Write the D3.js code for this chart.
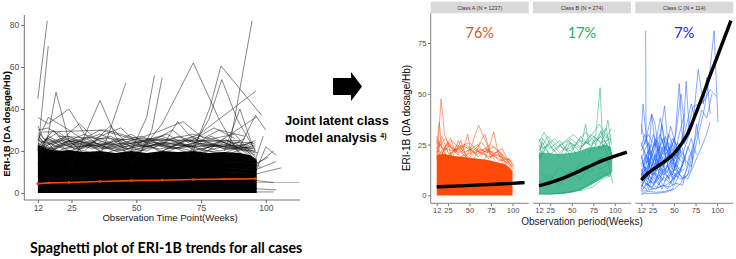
<!DOCTYPE html>
<html><head><meta charset="utf-8">
<script src="https://cdn.jsdelivr.net/npm/d3@7"></script>
<style>body{margin:0;background:#fff}svg{display:block}</style>
</head><body>
<svg id="c" width="736" height="259"></svg>
<script>
// ---------------- DATA ----------------
const leftYTicks = [0, 20, 40, 60, 80];
const leftXTicks = [12, 25, 50, 75, 100];
const rightYTicks = [0, 25, 50, 75];
const rightXTicks = [12, 25, 50, 75, 100];

// mean trajectory (all cases)
const meanWeeks = [12, 16, 24, 36, 48, 60, 72, 84, 96];
const meanVals  = [4.4, 4.8, 5.0, 5.5, 5.9, 6.1, 6.4, 6.6, 6.8];

// dense mass of all cases (upper envelope)
const allMassWeeks = [12, 14, 16, 20, 24, 30, 36, 42, 48, 54, 60, 66, 72, 78, 84, 90, 94, 96.5, 96.5];
const allMassTop   = [23, 22, 21, 20, 20.5, 19.5, 20, 19, 20, 19, 20, 19.5, 20, 19, 19.5, 19, 18, 16, 0];

// individual trajectories (all cases) [week, value]
const allLines = [
  [[12,45],[15.6,82]],
  [[12,20],[16,70]],
  [[12,14],[16,28],[19,48],[24,25],[36,12]],
  [[24,10],[31,30],[36,44],[42,27],[48,15]],
  [[36,18],[39,27],[46,52.5]],
  [[48,20],[54,36],[57,56]],
  [[50,15],[56,30],[60,55]],
  [[48,14],[60,33],[72,62],[82,35],[90,18]],
  [[72,20],[78.5,41],[82.7,60.5],[98.4,37]],
  [[70,18],[78,35],[83,54],[89,35],[96,20]],
  [[86,22],[94.7,82]],
  [[60,20],[75,28.6],[96.2,48.6]],
  [[72,15],[84,26],[96.5,36.3]],
  [[12,25],[16,36],[24,30],[36,20]],
  [[12,36],[16,33],[24,40],[30,28],[36,22]],
  [[24,22],[36,30],[48,26],[60,22]],
  [[14,29],[38,30],[50,26],[70,25],[90,25]],
  [[20,27],[45,25.5],[95,24]],
  [[60,22],[66,34],[70,28],[75,24]],
  [[84,20],[90,40],[95,22]],
  [[90,22],[96,37],[100,30]],
  [[96,10],[100,22],[104,18]],
  [[12,22],[16,26],[24,20],[36,24],[48,19],[60,23],[72,20],[84,24],[96,18]],
  [[12,24],[16,19],[24,25],[36,21],[48,25],[60,20],[72,26],[84,21],[96,22]],
  [[12,19],[16,27],[24,22],[36,18],[48,23],[60,27],[72,21],[84,19],[96,25]],
  [[12,27],[16,22],[24,18],[36,26],[48,20],[60,24],[72,18],[84,26],[96,16]],
  [[12,21],[16,24],[24,27],[36,20],[48,28],[60,19],[72,24],[84,22],[96,20]],
  [[12,26],[16,20],[24,23],[36,28],[48,22],[60,26],[72,22],[84,18],[96,23]],
  [[12,18],[16,23],[24,26],[36,22],[48,18],[60,25],[72,28],[84,24],[96,19]],
  [[12,23],[20,29],[28,21],[40,24],[52,27],[64,21],[76,25],[88,28],[96,17]],
  [[14,20],[22,24],[30,28],[42,22],[54,20],[66,27],[78,22],[90,24],[97,14]],
  [[12,29],[18,21],[26,25],[38,23],[50,24],[62,28],[74,19],[86,23],[98,12]],
  [[20,24],[28,33],[34,26],[44,31],[52,22],[64,30],[70,24],[80,31],[88,26]],
  [[30,20],[40,32],[46,24],[58,29],[68,34],[76,26],[82,30],[92,27]],
  [[12,20],[15,25],[19,22],[27,24],[33,21],[41,25],[47,21],[57,24],[63,22],[69,25],[81,22],[93,23]],
  [[13,23],[17,21],[23,24],[29,22],[35,25],[45,22],[51,23],[59,21],[67,23],[75,21],[83,23],[95,21]],
  [[12,25],[18,23],[22,21],[32,23],[38,21],[44,23],[56,25],[62,21],[68,22],[78,24],[86,21],[94,20]],
  [[14,22],[20,20],[26,23],[34,24],[42,20],[50,22],[58,23],[66,21],[74,23],[82,20],[90,22],[96,21]],
  [[12,21],[16,23],[21,26],[26,21],[31,23],[37,22],[43,26],[49,23],[55,22],[61,24],[71,23],[79,27],[87,22],[95,24]],
  [[15,26],[25,22],[35,23],[45,20],[55,26],[65,23],[75,22],[85,25],[97,19]],
  [[12,28],[14,24],[18,30],[22,24],[30,26],[40,21],[52,25],[62,23],[72,27],[84,21],[92,26]],
  [[16,21],[20,25],[30,24],[40,27],[50,21],[60,24],[70,22],[80,23],[90,21],[96,24]],
  [[12,32],[14,26],[20,23]],
  [[12,30],[16,31],[22,26],[28,23]],
  [[84,15],[96,14],[101,17]],
  [[84,12],[96,11],[104,15]],
  [[84,10],[96,9],[106,12]],
  [[84,8],[96,13],[103,20]],
  [[84,14],[96,16],[99,27]],
  [[90,6],[96,6],[103,5]],
  [[96,0.5],[103,0.5]],
  [[96,2],[104,1.5]]
];
const allTail = [[90,6],[96,5],[113,5]];

// Class A (N = 1237)
const aMassWeeks = [12, 20, 30, 40, 50, 60, 70, 80, 90, 96, 100, 100];
const aMassTop   = [20, 20.5, 19.5, 19, 18.5, 18, 17.5, 16.5, 15.5, 14, 12, 0];
const aLines = [
  [[12,20],[14,27],[17,47.5],[21,30],[25,25.6],[30,18]],
  [[12,25],[15,36],[18,22]],
  [[45,18],[52.8,24.8],[60.5,34.6],[70,25.6],[75,18]],
  [[65,15],[72,22],[78,31.3],[84,20],[90,15]],
  [[30,18],[37,27],[42,22],[48,30],[52,20]],
  [[20,22],[28,28],[34,21],[40,27],[46,19]],
  [[55,17],[62,26],[68,30],[74,21],[80,17]],
  [[12,21],[16,25],[24,19],[36,23],[48,18],[60,22],[72,19],[84,20],[96,15],[100,13]],
  [[12,24],[16,18],[24,26],[36,20],[48,24],[60,19],[72,23],[84,17],[96,18],[101,14]],
  [[12,18],[16,27],[24,22],[36,17],[48,22],[60,25],[72,18],[84,22],[96,12]],
  [[12,27],[16,21],[24,17],[36,25],[48,19],[60,23],[72,21],[84,18],[96,16],[102,13]],
  [[14,20],[22,24],[30,27],[42,21],[54,23],[66,20],[78,24],[90,19],[98,15]],
  [[12,23],[18,29],[26,20],[38,24],[50,26],[62,21],[74,25],[86,21],[97,17]],
  [[12,16],[20,22],[28,25],[40,19],[52,21],[64,26],[76,20],[88,23],[99,14]],
  [[12,22],[18,21],[26,24],[34,22],[44,24],[56,21],[68,23],[80,20],[92,18]],
  [[14,26],[20,23],[32,22],[46,25],[58,20],[70,22],[82,21],[94,17]],
  [[12,29],[15,24],[22,28],[30,23],[38,21]],
  [[90,14],[96,18],[101,15]],
  [[90,10],[96,12],[102,10]]
];
const aTrendWeeks = [12, 40, 70, 100, 114];
const aTrendVals  = [4.2, 4.7, 5.3, 5.9, 6.3];

// Class B (N = 274)
const bMassWeeks  = [12, 20, 30, 40, 50, 60, 70, 80, 88, 95, 97];
const bMassTop    = [21, 21, 20.5, 20.5, 21, 22, 23.5, 24, 25, 24, 20];
const bMassBottom = [0.5, 0.5, 0.5, 0.8, 1.5, 2.5, 4.5, 7, 9, 10, 12];
const bLines = [
  [[70,20],[78,30],[82.9,53],[86,25],[92,20]],
  [[60,22],[66,35],[70,25]],
  [[80,22],[88,30],[92,37],[96,25]],
  [[40,18],[48,26],[55,20]],
  [[90,20],[97.7,6]],
  [[75,22],[84,32],[90,28],[96,33]],
  [[12,18],[18,24],[25,20]],
  [[12,22],[16,26],[24,20],[36,24],[48,22],[60,27],[72,25],[84,29],[96,22]],
  [[12,25],[16,20],[24,27],[36,21],[48,26],[60,23],[72,30],[84,26],[96,28]],
  [[12,19],[16,28],[24,23],[36,27],[48,20],[60,29],[72,24],[84,31],[96,20]],
  [[12,28],[16,23],[24,25],[36,19],[48,28],[60,24],[72,27],[84,23],[96,30]],
  [[12,17],[20,24],[30,28],[42,22],[54,25],[66,31],[78,26],[90,33],[97,18]],
  [[14,23],[22,29],[34,24],[46,27],[58,22],[70,28],[82,35],[94,27]],
  [[12,26],[18,31],[28,22],[40,26],[52,30],[64,25],[76,29],[88,24],[96,27]],
  [[12,1],[24,0.5],[36,1],[48,1.5],[60,3],[72,6],[84,9],[96,12]],
  [[12,0.5],[30,0.8],[50,2],[62,2.5],[74,4],[86,8],[96,10]],
  [[40,1],[55,2],[65,4],[75,7],[85,12],[95,9]],
  [[12,6],[24,10],[36,5],[48,12],[60,8],[72,15],[84,13],[96,17]],
  [[12,12],[24,7],[36,14],[48,9],[60,16],[72,11],[84,19],[96,15]]
];
const bTrendWeeks = [12, 25, 40, 50, 60, 75, 90, 100, 114];
const bTrendVals  = [4.8, 6.3, 8.5, 10.3, 12.2, 15.2, 17.8, 19.3, 21.3];

// Class C (N = 114)
const cLines = [
  [[17,81],[17.5,30],[22,12],[30,8]],
  [[12,35],[16,25],[24,40],[30,18],[36,10]],
  [[12,10],[20,22],[28,15],[36,28],[44,12],[50,8]],
  [[12,5],[24,12],[36,18],[48,25],[56,20],[62,35]],
  [[24,14],[32,25],[39,44],[44,20],[50,28],[56,18]],
  [[44,18],[50,22],[56,55],[60,25],[64,56],[68,30]],
  [[60,20],[66,28],[72,35],[78,62],[84,45],[88,58],[92,40]],
  [[84,40],[90,55],[96.5,81],[101,36]],
  [[62,25],[72,43.6],[84,46],[92,52],[99.5,48.6]],
  [[12,2],[25,3],[40,5],[50,8],[60,15],[70,28],[76,20]],
  [[12,1],[20,2],[30,1.5],[40,2],[48,3],[56,10],[62,20]],
  [[12,8],[16,14],[22,6],[30,18],[38,10],[46,14],[54,22]],
  [[12,15],[18,20],[24,10],[32,16],[40,24],[48,15],[56,30],[62,40]],
  [[12,20],[16,12],[24,18],[30,27],[38,20],[44,30],[50,22]],
  [[12,12],[20,8],[28,20],[34,14],[42,9],[50,16],[58,12],[66,24],[72,18]],
  [[12,4],[18,9],[26,6],[34,12],[42,18],[50,12],[58,26],[64,15]],
  [[12,26],[18,16],[26,30],[32,22],[40,16],[48,28],[54,24]],
  [[14,3],[22,7],[30,4],[38,9],[46,6],[54,11],[62,8],[70,13],[76,35],[80,25]],
  [[12,18],[20,26],[28,12],[36,22],[44,26],[52,18],[60,26]],
  [[12,7],[20,15],[26,24],[34,30],[40,22],[46,34],[52,25]],
  [[16,6],[24,4],[32,10],[40,7],[48,12],[54,9],[62,18],[70,14],[78,30],[84,40]],
  [[12,22],[20,30],[28,24],[34,38],[40,26],[48,20]],
  [[20,10],[28,6],[36,12],[44,20],[52,30],[58,50],[62,35]],
  [[48,10],[56,22],[62,30],[70,45],[74,38]],
  [[70,20],[76,30],[82,42],[88,38],[94,50]],
  [[12,30],[14,45],[18,28],[24,20]],
  [[20,15],[24,40],[28,35],[32,22]],
  [[12,11],[18,5],[24,13],[30,9],[36,16],[42,11],[48,19],[54,14]],
  [[60,10],[66,8],[72,14],[80,22],[86,28],[92,36]],
  [[12,0.5],[20,1],[30,1],[40,1.5],[50,3],[58,6],[66,14],[72,25]],
  [[12,14],[22,18],[32,8],[42,14],[52,20],[60,16]],
  [[30,12],[36,35],[40,20]],
  [[12,3],[16,10],[20,5],[28,3],[36,5],[44,4],[52,6],[60,5],[68,20]],
  [[12,9],[16,18],[24,25],[32,12],[40,19],[48,8],[56,14]],
  [[12,16],[20,12],[28,28],[36,14],[44,24],[52,12],[58,20]],
  [[14,24],[22,13],[30,20],[38,28],[46,16],[54,26],[60,18]],
  [[12,6],[18,12],[24,8],[30,14],[36,7],[42,15],[48,10],[54,18]],
  [[12,13],[16,8],[22,16],[28,10],[34,19],[40,12],[46,20],[52,14],[58,22]],
  [[12,2],[18,6],[24,3],[30,8],[36,3],[42,10],[48,5],[54,12],[60,8]],
  [[12,19],[18,11],[24,21],[30,15],[36,24],[42,17],[48,23],[54,19]],
  [[14,9],[20,19],[26,12],[32,24],[38,15],[44,21],[50,17],[56,23],[64,18]],
  [[12,24],[16,30],[22,20],[28,26],[34,18],[40,29],[46,21]],
  [[20,3],[26,9],[32,5],[38,13],[44,8],[50,15],[56,11],[62,13]],
  [[12,5],[18,3],[26,11],[34,7],[42,3],[50,10],[58,8],[66,10],[72,22]]
];
const cTrendWeeks = [12, 20, 28, 40, 51, 58, 66, 75, 85, 90, 100, 108, 116];
const cTrendVals  = [7.5, 11, 13.5, 17, 21, 25, 30.5, 40, 51, 57, 68, 77, 86];

const classNames = ["Class A (N = 1237)", "Class B (N = 274)", "Class C (N = 114)"];
const classPct   = ["76%", "17%", "7%"];

// ---------------- DRAW ----------------
const svg = d3.select("#c");
svg.append("rect").attr("width", 736).attr("height", 259).attr("fill", "#fff");
const tickFont = "Liberation Sans, Arial, sans-serif";

// ---- Left panel ----
const xL = d3.scaleLinear().domain([0, 100]).range([6.8, 265.8]);
const yL = d3.scaleLinear().domain([0, 80]).range([193, 25]);
const gL = svg.append("g");
const lineL = d3.line().x(d => xL(d[0])).y(d => yL(d[1]));

gL.append("path").datum(allTail).attr("d", lineL)
  .attr("fill", "none").attr("stroke", "#999").attr("stroke-width", 0.7);

gL.append("path")
  .datum(allMassWeeks.map((w, i) => [w, allMassTop[i]]))
  .attr("d", d3.area().x(d => xL(d[0])).y0(yL(0)).y1(d => yL(d[1])))
  .attr("fill", "#000");

gL.selectAll("path.sp").data(allLines).join("path").attr("class", "sp")
  .attr("d", lineL).attr("fill", "none").attr("stroke", "#111")
  .attr("stroke-width", 0.6).attr("stroke-opacity", 0.85);

const meanPts = meanWeeks.map((w, i) => [w, meanVals[i]]);
gL.append("path").datum(meanPts).attr("d", lineL)
  .attr("fill", "none").attr("stroke", "#ff4500").attr("stroke-width", 1.6);
gL.selectAll("circle").data(meanPts).join("circle")
  .attr("cx", d => xL(d[0])).attr("cy", d => yL(d[1])).attr("r", 1.4)
  .attr("fill", "#e03c00");

// left axes
const axL = svg.append("g").attr("transform", "translate(24.3,0)")
  .call(d3.axisLeft(yL).tickValues(leftYTicks).tickSize(3).tickPadding(2));
axL.select(".domain").attr("d", "M0,15V200");
const axB = svg.append("g").attr("transform", "translate(0,200)")
  .call(d3.axisBottom(xL).tickValues(leftXTicks).tickSize(3).tickPadding(2));
axB.select(".domain").attr("d", "M24.3,0H300");
[axL, axB].forEach(a => {
  a.select(".domain").attr("stroke", "#666").attr("stroke-width", 0.9);
  a.selectAll(".tick line").attr("stroke", "#666");
  a.selectAll(".tick text").attr("fill", "#4d4d4d").attr("font-family", tickFont).attr("font-size", 8.5);
});

svg.append("text").attr("transform", "translate(10,124) rotate(-90)")
  .attr("text-anchor", "middle").attr("font-family", tickFont).attr("font-weight", "bold")
  .attr("font-size", 9.6).text("ERI-1B (DA dosage/Hb)");
svg.append("text").attr("x", 170).attr("y", 221).attr("text-anchor", "middle")
  .attr("font-family", tickFont).attr("font-size", 9.6).attr("fill", "#222")
  .text("Observation Time Point(Weeks)");

svg.append("text").attr("x", 30).attr("y", 253)
  .attr("font-family", "Lato, 'Open Sans', sans-serif").attr("font-weight", "bold")
  .attr("font-size", 14.2).text("Spaghetti plot of ERI-1B trends for all cases");

// ---- arrow & annotation ----
svg.append("path").attr("d", "M333,78L351,78L351,72L362,86.5L351,101L351,95L333,95Z").attr("fill", "#000");
const ann = svg.append("g").attr("font-family", tickFont).attr("font-weight", "bold").attr("font-size", 12.8);
ann.append("text").attr("x", 285).attr("y", 125).text("Joint latent class");
const t2 = ann.append("text").attr("x", 285).attr("y", 142);
t2.append("tspan").text("model analysis ");
t2.append("tspan").attr("font-size", 7).attr("dy", -4).text("4)");

// ---- Right facets ----
const panelX0 = [430.7, 533.0, 635.3];
const panelW = 98;
const yR = d3.scaleLinear().domain([-3.9, 89.6]).range([203.3, 13.3]);
const colors = ["#ff4a0a", "#22a87a", "#2262ff"];
const pctColors = ["#cc5a1e", "#1daf55", "#2020ee"];
const massData = [
  {w: aMassWeeks, top: aMassTop, bot: null},
  {w: bMassWeeks, top: bMassTop, bot: bMassBottom},
  null
];
const lineSets = [aLines, bLines, cLines];
const trends = [[aTrendWeeks, aTrendVals], [bTrendWeeks, bTrendVals], [cTrendWeeks, cTrendVals]];

panelX0.forEach((x0, i) => {
  const xR = d3.scaleLinear().domain([5, 118.8]).range([x0, x0 + panelW]);
  const g = svg.append("g");
  const ln = d3.line().x(d => xR(d[0])).y(d => yR(d[1]));
  // strip
  svg.append("rect").attr("x", x0).attr("y", 1.7).attr("width", panelW).attr("height", 11.6).attr("fill", "#d9d9d9");
  svg.append("text").attr("x", x0 + panelW / 2).attr("y", 9.6).attr("text-anchor", "middle")
    .attr("font-family", tickFont).attr("font-size", 5.4).attr("fill", "#333").text(classNames[i]);
  // mass
  const m = massData[i];
  if (m) {
    const pts = m.w.map((w, k) => [w, m.top[k], m.bot ? m.bot[k] : 0]);
    g.append("path").datum(pts)
      .attr("d", d3.area().x(d => xR(d[0])).y0(d => yR(d[2])).y1(d => yR(d[1])))
      .attr("fill", colors[i]).attr("fill-opacity", i === 0 ? 1 : 0.8);
  }
  g.selectAll("path.sp").data(lineSets[i]).join("path").attr("class", "sp")
    .attr("d", ln).attr("fill", "none").attr("stroke", colors[i])
    .attr("stroke-width", 0.6).attr("stroke-opacity", 0.9);
  // trend
  const tp = trends[i][0].map((w, k) => [w, trends[i][1][k]]);
  g.append("path").datum(tp).attr("d", ln.curve(d3.curveMonotoneX))
    .attr("fill", "none").attr("stroke", "#000").attr("stroke-width", 3.4).attr("stroke-linecap", "butt");
  // percent label
  svg.append("text").attr("x", x0 + panelW / 2).attr("y", 37.5).attr("text-anchor", "middle")
    .attr("font-family", "Lato, 'Open Sans', sans-serif").attr("font-size", 14.5)
    .attr("fill", pctColors[i]).text(classPct[i]);
  // x axis
  const ax = svg.append("g").attr("transform", "translate(0,203.3)")
    .call(d3.axisBottom(xR).tickValues(rightXTicks).tickSize(2.7).tickPadding(1.5));
  ax.select(".domain").attr("d", `M${x0},0H${x0 + panelW}`).attr("stroke", "#777").attr("stroke-width", 0.9);
  ax.selectAll(".tick line").attr("stroke", "#777");
  ax.selectAll(".tick text").attr("fill", "#4d4d4d").attr("font-family", tickFont).attr("font-size", 7.6);
});

const axRY = svg.append("g").attr("transform", "translate(430.7,0)")
  .call(d3.axisLeft(yR).tickValues(rightYTicks).tickSize(2.7).tickPadding(1.5));
axRY.select(".domain").attr("d", "M0,13.3V203.3").attr("stroke", "#777").attr("stroke-width", 0.9);
axRY.selectAll(".tick line").attr("stroke", "#777");
axRY.selectAll(".tick text").attr("fill", "#4d4d4d").attr("font-family", tickFont).attr("font-size", 7.6);

svg.append("text").attr("transform", "translate(410,118) rotate(-90)")
  .attr("text-anchor", "middle").attr("font-family", tickFont).attr("font-size", 10)
  .text("ERI-1B (DA dosage/Hb)");
svg.append("text").attr("x", 582).attr("y", 225).attr("text-anchor", "middle")
  .attr("font-family", tickFont).attr("font-size", 10).attr("fill", "#222")
  .text("Observation period(Weeks)");
</script>
</body></html>
